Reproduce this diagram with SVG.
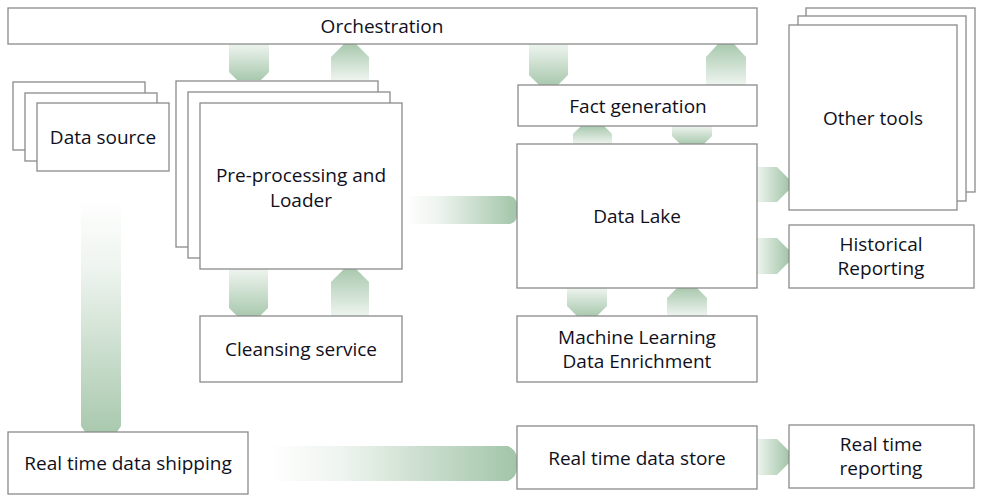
<svg xmlns="http://www.w3.org/2000/svg" width="988" height="500" viewBox="0 0 988 500">
<defs>
<linearGradient id="gDown" x1="0" y1="0" x2="0" y2="1"><stop offset="0" stop-color="#eef4ef"/><stop offset="1" stop-color="#a9c9ae"/></linearGradient>
<linearGradient id="gUp" x1="0" y1="1" x2="0" y2="0"><stop offset="0" stop-color="#eef4ef"/><stop offset="1" stop-color="#a9c9ae"/></linearGradient>
<linearGradient id="gRight" x1="0" y1="0" x2="1" y2="0"><stop offset="0" stop-color="#eef4ef"/><stop offset="1" stop-color="#a2c5a8"/></linearGradient>
<linearGradient id="gLongR" x1="0" y1="0" x2="1" y2="0"><stop offset="0" stop-color="#ffffff"/><stop offset="0.3" stop-color="#eef4ef"/><stop offset="1" stop-color="#a2c5a8"/></linearGradient>
<linearGradient id="gLongD" x1="0" y1="0" x2="0" y2="1"><stop offset="0" stop-color="#ffffff"/><stop offset="0.3" stop-color="#eef4ef"/><stop offset="1" stop-color="#a9c9ae"/></linearGradient>
</defs>
<style>
.box{fill:#fff;stroke:#8a8a8a;stroke-width:1.3}
.t{font-family:"Open Sans","DejaVu Sans",sans-serif;font-size:19px;fill:#10101c;text-anchor:middle}
</style>
<rect width="988" height="500" fill="#fff"/>
<g id="connectors">
<path d="M229,44 H269 V72 L261,80 H237 L229,72 Z" fill="url(#gDown)"/>
<path d="M331,80 H369 V57 L356,44 H344 L331,57 Z" fill="url(#gUp)"/>
<path d="M229,269 H268 V308 L260,316 H237 L229,308 Z" fill="url(#gDown)"/>
<path d="M331,316 H369 V282 L356,269 H344 L331,282 Z" fill="url(#gUp)"/>
<path d="M529,44 H568 V75 L558,85 H539 L529,75 Z" fill="url(#gDown)"/>
<path d="M706,85 H746 V57 L734,44 H718 L706,57 Z" fill="url(#gUp)"/>
<path d="M573,144 H612 V134 L604,126 H581 L573,134 Z" fill="url(#gUp)"/>
<path d="M672,126 H712 V136 L704,144 H680 L672,136 Z" fill="url(#gDown)"/>
<path d="M567,288 H607 V306 L597,316 H577 L567,306 Z" fill="url(#gDown)"/>
<path d="M667,316 H707 V298 L697,288 H677 L667,298 Z" fill="url(#gUp)"/>
<path d="M757,167 H777 L789,179 V190 L777,202 H757 Z" fill="url(#gRight)"/>
<path d="M757,238 H777 L789,250 V262 L777,274 H757 Z" fill="url(#gRight)"/>
<path d="M757,439 H777 L789,451 V463 L777,475 H757 Z" fill="url(#gRight)"/>
<path d="M405,196 H510 Q517,198 517,205 V215 Q517,222 510,224 H405 Z" fill="url(#gLongR)"/>
<path d="M268,446 H508 Q517,450 517,459 V468 Q517,477 508,481 H268 Z" fill="url(#gLongR)"/>
<path d="M81,198 H121 V426 L117,432 H85 L81,426 Z" fill="url(#gLongD)"/>
</g>
<g id="orchestration"><rect class="box" x="8" y="8" width="749" height="36"/><text class="t" x="382" y="33">Orchestration</text></g>
<g id="data-source">
<rect class="box" x="13" y="82" width="132" height="68"/>
<rect class="box" x="25" y="93" width="132" height="68"/>
<rect class="box" x="37" y="103" width="132" height="68"/>
<text class="t" x="103" y="144">Data source</text></g>
<g id="preprocessing">
<rect class="box" x="176" y="81" width="202" height="166"/>
<rect class="box" x="188" y="92" width="202" height="166"/>
<rect class="box" x="200" y="103" width="202" height="166"/>
<text class="t" x="301" y="182">Pre-processing and</text>
<text class="t" x="301" y="207">Loader</text></g>
<g id="cleansing"><rect class="box" x="200" y="316" width="202" height="66"/><text class="t" x="301" y="356">Cleansing service</text></g>
<g id="fact-generation"><rect class="box" x="518" y="85" width="239" height="41"/><text class="t" x="638" y="113">Fact generation</text></g>
<g id="data-lake"><rect class="box" x="517" y="144" width="240" height="144"/><text class="t" x="637" y="223">Data Lake</text></g>
<g id="ml"><rect class="box" x="517" y="316" width="240" height="66"/><text class="t" x="637" y="344">Machine Learning</text><text class="t" x="637" y="368">Data Enrichment</text></g>
<g id="other-tools">
<rect class="box" x="806" y="8" width="169" height="184"/>
<rect class="box" x="798" y="16" width="168" height="185"/>
<rect class="box" x="789" y="25" width="168" height="185"/>
<text class="t" x="873" y="125">Other tools</text></g>
<g id="historical"><rect class="box" x="789" y="225" width="185" height="63"/><text class="t" x="881" y="251">Historical</text><text class="t" x="881" y="275">Reporting</text></g>
<g id="rt-shipping"><rect class="box" x="8" y="432" width="240" height="62"/><text class="t" x="128" y="470">Real time data shipping</text></g>
<g id="rt-store"><rect class="box" x="517" y="426" width="240" height="63"/><text class="t" x="637" y="465">Real time data store</text></g>
<g id="rt-reporting"><rect class="box" x="789" y="425" width="185" height="63"/><text class="t" x="881" y="451">Real time</text><text class="t" x="881" y="475">reporting</text></g>
</svg>
